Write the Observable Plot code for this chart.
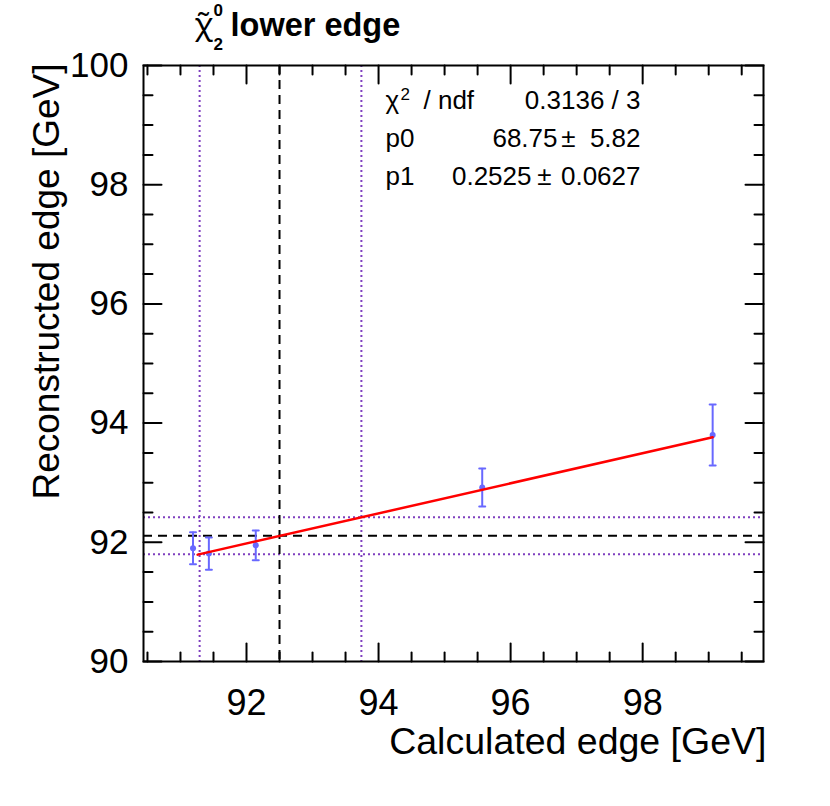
<!DOCTYPE html>
<html>
<head>
<meta charset="utf-8">
<script src="https://cdn.jsdelivr.net/npm/d3@7"></script>
<script src="https://cdn.jsdelivr.net/npm/@observablehq/plot@0.6"></script>
<style>
  html, body { margin: 0; padding: 0; background: #fff; }
  #chart svg { display: block; }
</style>
</head>
<body>
<div id="chart"></div>
<script>
// ---- data ----
const calculatedEdge = [91.19, 91.43, 92.14, 95.57, 99.06];
const reconstructedEdge = [91.90, 91.81, 91.95, 92.92, 93.80];
const reconstructedErr = [0.27, 0.27, 0.25, 0.32, 0.51];

// fit parameters (pol1)
const fitP0 = 68.75;
const fitP1 = 0.2525;
const fitRange = [91.26, 99.06];

// reference lines
const dashedX = [92.5];
const dashedY = [92.11];
const dottedX = [91.29, 93.74];
const dottedY = [91.80, 92.42];

// axes
const xDomain = [90.44, 99.83];
const yDomain = [90, 100];
const xMajor = [92, 94, 96, 98];
const yMajor = [90, 92, 94, 96, 98, 100];
const xMinor = d3.range(90.5, 99.6, 0.5).filter(v => !xMajor.includes(v));
const yMinor = d3.range(90.5, 99.6, 0.5).filter(v => !yMajor.includes(v));

// ---- derived tables ----
const points = calculatedEdge.map((x, i) => ({x, y: reconstructedEdge[i], e: reconstructedErr[i]}));
const fitLine = fitRange.map(x => ({x, y: fitP0 + fitP1 * x}));

const blue = "#6868ff";
const violet = "#7f3fbf";
const font = "'Liberation Sans', Arial, Helvetica, sans-serif";

const lineShape = { draw(context, l) { context.moveTo(0, 0); context.lineTo(0, -l); } };
const tickOpts = {stroke: "black", strokeWidth: 2, anchor: "start", shape: lineShape};

// text placed relative to the frame's top-left corner (143, 65)
function txt(text, px, py, o) {
  return Plot.text([text], {text: d => d, frameAnchor: "top-left", dx: px - 143, dy: py - 65, fill: "black", ...o});
}

const SF = 26; // stats font size

const chart = Plot.plot({
  width: 830,
  height: 806,
  marginLeft: 143,
  marginRight: 67,
  marginTop: 65,
  marginBottom: 145,
  style: {fontFamily: font, background: "white", color: "black"},
  x: {domain: xDomain, axis: null},
  y: {domain: yDomain, axis: null},
  marks: [
    // reference lines
    Plot.ruleX(dottedX, {stroke: violet, strokeWidth: 2, strokeDasharray: "2,3"}),
    Plot.ruleY(dottedY, {stroke: violet, strokeWidth: 2, strokeDasharray: "2,3"}),
    Plot.ruleX(dashedX, {stroke: "black", strokeWidth: 2, strokeDasharray: "9,6"}),
    Plot.ruleY(dashedY, {stroke: "black", strokeWidth: 2, strokeDasharray: "9,6"}),
    // error bars
    Plot.ruleX(points, {x: "x", y1: d => d.y - d.e, y2: d => d.y + d.e, stroke: blue, strokeWidth: 2}),
    Plot.vector(points, {x: "x", y: d => d.y - d.e, length: 6, rotate: 90, anchor: "middle", shape: lineShape, stroke: blue, strokeWidth: 2}),
    Plot.vector(points, {x: "x", y: d => d.y + d.e, length: 6, rotate: 90, anchor: "middle", shape: lineShape, stroke: blue, strokeWidth: 2}),
    Plot.dot(points, {x: "x", y: "y", r: 3, fill: blue}),
    // fit
    Plot.line(fitLine, {x: "x", y: "y", stroke: "#ff0000", strokeWidth: 2.5}),
    // frame & ticks
    Plot.frame({stroke: "black", strokeWidth: 2}),
    Plot.vector(xMajor, {x: d => d, frameAnchor: "bottom", length: 18, rotate: 0, ...tickOpts}),
    Plot.vector(xMinor, {x: d => d, frameAnchor: "bottom", length: 9, rotate: 0, ...tickOpts}),
    Plot.vector(xMajor, {x: d => d, frameAnchor: "top", length: 18, rotate: 180, ...tickOpts}),
    Plot.vector(xMinor, {x: d => d, frameAnchor: "top", length: 9, rotate: 180, ...tickOpts}),
    Plot.vector(yMajor, {y: d => d, frameAnchor: "left", length: 18, rotate: 90, ...tickOpts}),
    Plot.vector(yMinor, {y: d => d, frameAnchor: "left", length: 9, rotate: 90, ...tickOpts}),
    Plot.vector(yMajor, {y: d => d, frameAnchor: "right", length: 18, rotate: -90, ...tickOpts}),
    Plot.vector(yMinor, {y: d => d, frameAnchor: "right", length: 9, rotate: -90, ...tickOpts}),
    // tick labels
    Plot.axisX(xMajor, {anchor: "bottom", tickSize: 0, tickPadding: 28, fontSize: 36, label: null, tickFormat: d3.format("d")}),
    Plot.axisY(yMajor, {anchor: "left", tickSize: 0, tickPadding: 15, fontSize: 35, label: null, tickFormat: d3.format("d")}),
    // axis titles
    Plot.text(["Calculated edge [GeV]"], {text: d => d, frameAnchor: "bottom-right", textAnchor: "end", lineAnchor: "bottom", dx: 3, dy: 92, fontSize: 37.5, fill: "black"}),
    Plot.text(["Reconstructed edge [GeV]"], {text: d => d, frameAnchor: "top-left", textAnchor: "end", lineAnchor: "bottom", rotate: -90, dx: 58 - 143, dy: -2, fontSize: 37, fill: "black"}),
    // title: chi~_2^0 lower edge
    txt("χ\u0303", 194, 34, {textAnchor: "start", lineAnchor: "bottom", fontSize: 31, fontFamily: "'Noto Sans', 'DejaVu Sans', sans-serif"}),
    txt("0", 213, 3, {textAnchor: "start", lineAnchor: "top", fontSize: 17, fontWeight: "bold"}),
    txt("2", 213, 37, {textAnchor: "start", lineAnchor: "top", fontSize: 17, fontWeight: "bold"}),
    txt("lower edge", 230, 35, {textAnchor: "start", lineAnchor: "bottom", fontSize: 32.5, fontWeight: "bold"}),
    // stats box
    txt("χ", 385, 108, {textAnchor: "start", lineAnchor: "bottom", fontSize: SF}),
    txt("2", 400, 87, {textAnchor: "start", lineAnchor: "top", fontSize: 17}),
    txt("/ ndf", 423, 108, {textAnchor: "start", lineAnchor: "bottom", fontSize: SF}),
    txt("0.3136 / 3", 640, 108, {textAnchor: "end", lineAnchor: "bottom", fontSize: SF}),
    txt("p0", 385, 146, {textAnchor: "start", lineAnchor: "bottom", fontSize: SF}),
    txt("68.75", 557, 146, {textAnchor: "end", lineAnchor: "bottom", fontSize: SF}),
    txt("±", 568, 146, {textAnchor: "middle", lineAnchor: "bottom", fontSize: SF}),
    txt("5.82", 640, 146, {textAnchor: "end", lineAnchor: "bottom", fontSize: SF}),
    txt("p1", 385, 184, {textAnchor: "start", lineAnchor: "bottom", fontSize: SF}),
    txt("0.2525", 531, 184, {textAnchor: "end", lineAnchor: "bottom", fontSize: SF}),
    txt("±", 544, 184, {textAnchor: "middle", lineAnchor: "bottom", fontSize: SF}),
    txt("0.0627", 640, 184, {textAnchor: "end", lineAnchor: "bottom", fontSize: SF})
  ]
});

document.getElementById("chart").append(chart);
</script>
</body>
</html>
